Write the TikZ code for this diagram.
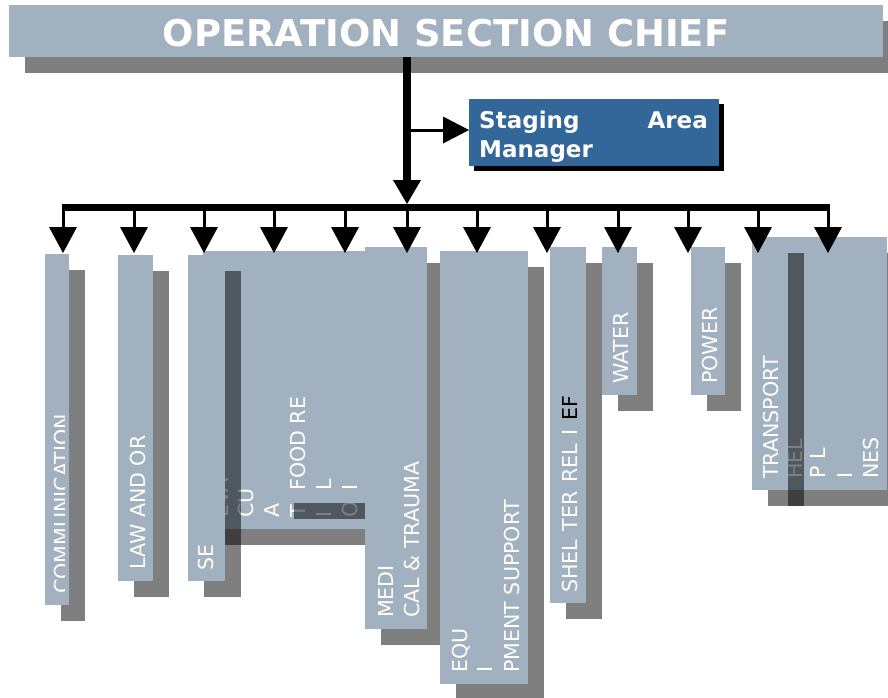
\documentclass[tikz,border=0pt]{standalone}
\usepackage{fontspec}
\setmainfont{DejaVu Sans}
\usetikzlibrary{arrows.meta,shadows}
\definecolor{slate}{RGB}{162,177,192}
\definecolor{stageblue}{RGB}{51,102,153}
\begin{document}
\begin{tikzpicture}[x=1pt,y=-1pt,
  box/.style={fill=slate, draw=none, inner sep=0pt, anchor=north west,
    drop shadow={shadow xshift=16pt, shadow yshift=-16pt, opacity=0.5, fill=black}},
  lbl/.style={text=white, font=\fontsize{20.6}{24}\selectfont, rotate=90, anchor=base west, inner sep=0pt},
  stxt/.style={text=white, font=\bfseries\fontsize{23}{28}\selectfont, inner sep=0pt},
  bus/.style={line width=7pt},
  drop/.style={line width=3pt, -{Triangle[length=26pt,width=28pt,line width=0pt]}},
  mainarrow/.style={line width=8pt, -{Triangle[length=24pt,width=28pt,line width=0pt]}},
  sidearrow/.style={line width=3pt, -{Triangle[length=26pt,width=27pt,line width=0pt]}}]
\clip (0,0) rectangle (888,697);
% title
\node[box, minimum width=874pt, minimum height=52pt] (chief) at (9,5) {};
\node[text=white, font=\bfseries\fontsize{36.9}{40}\selectfont, anchor=base, inner sep=0pt] (ttl) at (446,46) {OPERATION SECTION CHIEF};
% staging
\node[fill=stageblue, inner sep=0pt, anchor=north west, minimum width=250pt, minimum height=67pt,
  drop shadow={shadow xshift=5pt, shadow yshift=-5pt, opacity=1, fill=black}] (stage) at (469,99) {};
\node[stxt, anchor=base west] (st1) at (479,128) {Staging};
\node[stxt, anchor=base east] (st2) at (708,128) {Area};
\node[stxt, anchor=base west] (st3) at (479,157) {Manager};
% communication
\node[box, minimum width=24pt, minimum height=351pt] (comm) at (45,254) {};
\begin{scope}
\clip (45,254) rectangle (64,605);
\node[lbl] (commt) at (69,594) {COMMUNICATION};
\end{scope}
% law
\node[box, minimum width=35pt, minimum height=326pt] (law) at (118,255) {};
\node[lbl] (lawt) at (145,570) {LAW AND OR};
% evacuation
\node[box, minimum width=167pt, minimum height=278pt] (evac) at (203,251) {};
\node[lbl] (ev1) at (228,518) {EVA};
\node[lbl] (ev2) at (253,518) {CU};
\node[lbl] (ev3) at (279,518) {A};
\node[lbl] (ev4) at (305,518) {T};
\node[lbl] (ev5) at (331,518) {I};
\node[lbl] (ev6) at (357,518) {O};
% food
\node[box, minimum width=92pt, minimum height=252pt] (food) at (278,251) {};
\node[lbl] (fd1) at (305,491) {FOOD RE};
\node[lbl] (fd2) at (331,491) {L};
\node[lbl] (fd3) at (357,491) {I};
% security
\node[box, minimum width=37pt, minimum height=326pt] (se) at (188,255) {};
\node[lbl] (set) at (213,571) {SE};
% medical
\node[box, minimum width=62pt, minimum height=382pt] (med) at (365,247) {};
\node[lbl] (md1) at (393,618) {MEDI};
\node[lbl] (md2) at (419,618) {CAL \& TRAUMA};
% equipment
\node[box, minimum width=88pt, minimum height=433pt] (equip) at (440,251) {};
\node[lbl] (eq1) at (467,673) {EQU};
\node[lbl] (eq2) at (492,673) {I};
\node[lbl] (eq3) at (519,673) {PMENT SUPPORT};
% shelter
\node[box, minimum width=36pt, minimum height=356pt] (shel) at (550,247) {};
\node[lbl] (shelt) at (577,593) {SHEL\hspace{8.5pt}TER\hspace{8.5pt}REL\hspace{8.5pt}I\hspace{8.5pt}{\color{black}EF}};
% water
\node[box, minimum width=35pt, minimum height=148pt] (water) at (602,247) {};
\node[lbl] (watert) at (628,384) {WATER};
% power
\node[box, minimum width=34pt, minimum height=148pt] (power) at (691,247) {};
\node[lbl] (powert) at (717,384) {POWER};
% helplines
\node[box, minimum width=115pt, minimum height=253pt] (help) at (772,237) {};
\node[lbl] (hl1) at (802,479) {HEL};
\node[lbl] (hl2) at (825,479) {P L};
\node[lbl] (hl3) at (852,479) {I};
\node[lbl] (hl4) at (878,479) {NES};
% transport
\node[box, minimum width=36pt, minimum height=253pt] (trans) at (752,237) {};
\node[lbl] (transt) at (778,479) {TRANSPORT};
% connectors
\coordinate (busM) at (407,204);
\coordinate (busL) at (61.5,207.5);
\coordinate (busR) at (829.5,207.5);
\draw[mainarrow] (chief.south -| busM) -- (busM);
\coordinate (sa) at (407,130);
\draw[sidearrow] (sa) -- (sa -| stage.west);
\draw[bus] (busL) -- (busR);
\foreach \i/\x in {1/63,2/134,3/204,4/274,5/345,6/407,7/477,8/547,9/618,10/688,11/758,12/828}{
  \coordinate (tip\i) at (\x,253);
  \draw[drop] (tip\i |- busL) -- (tip\i);
}
\end{tikzpicture}
\end{document}
